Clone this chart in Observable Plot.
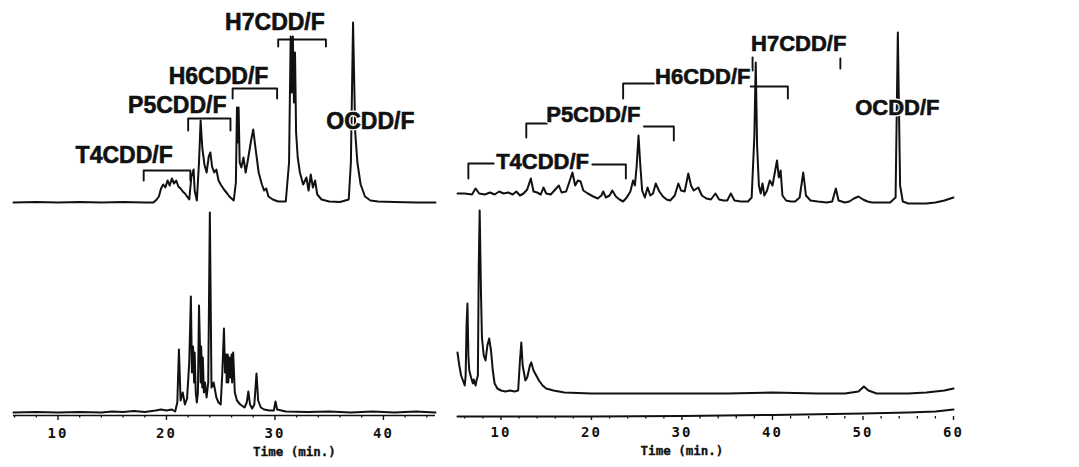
<!DOCTYPE html>
<html><head><meta charset="utf-8">
<script src="https://cdn.jsdelivr.net/npm/d3@7"></script>
<script src="https://cdn.jsdelivr.net/npm/@observablehq/plot@0.6"></script>
<style>
html,body{margin:0;padding:0;background:#fff;}
#chart{position:relative;width:1079px;height:467px;overflow:hidden;background:#fff;}
#chart svg{position:absolute;top:0;background:transparent;overflow:visible;}
g[aria-label="x-axis tick label"] text{letter-spacing:2px;}
</style></head><body><div id="chart"></div>
<script>
// ---------- Left panel (time in min, intensity) ----------
const leftUpper = [[5.9,0],[8,0.5],[10,0],[12,0.5],[14,0],[16,0.5],[18,0],[18.8,0],[19.1,3],[19.3,6],[19.5,14],[19.7,18],[19.9,15],[20.1,22],[20.3,17],[20.5,24],[20.7,19],[20.9,22],[21.1,16],[21.3,14],[21.5,11],[21.7,9],[21.9,6],[22.1,3],[22.3,26],[22.5,33],[22.6,12],[22.8,2],[23.0,40],[23.15,82],[23.3,55],[23.5,38],[23.7,30],[23.9,46],[24.05,50],[24.2,36],[24.4,30],[24.6,33],[24.8,22],[25.0,18],[25.3,13],[25.6,9],[25.8,6],[26.0,4],[26.2,2],[26.4,20],[26.5,95],[26.6,60],[26.65,95],[26.75,40],[26.9,35],[27.1,45],[27.3,30],[27.5,42],[27.8,62],[28.0,73],[28.2,55],[28.5,30],[28.8,18],[29.0,12],[29.2,14],[29.4,6],[29.8,3],[30.3,1],[31.0,1],[31.3,40],[31.45,166],[31.55,110],[31.65,166],[31.75,100],[31.85,150],[31.95,70],[32.1,45],[32.3,30],[32.6,18],[32.9,25],[33.1,12],[33.3,28],[33.5,15],[33.7,22],[33.9,8],[34.3,3],[35,1],[36,0.5],[36.8,3],[37.0,40],[37.2,180],[37.4,70],[37.6,40],[37.9,18],[38.3,6],[38.8,2],[39.5,1],[41,0.5],[43,0],[44.8,0]];
const leftLower = [[5.9,0],[8,0.5],[10,0],[12,0.5],[14,0],[15,1],[16,0.5],[17,1.5],[18,0.5],[19,2],[19.5,3],[20,2],[20.5,3],[20.8,1],[21.0,10],[21.15,63],[21.3,12],[21.5,20],[21.7,8],[21.9,14],[22.1,50],[22.25,116],[22.35,40],[22.45,66],[22.55,30],[22.6,60],[22.7,20],[22.8,10],[22.9,20],[23.0,107],[23.1,60],[23.15,30],[23.2,66],[23.3,25],[23.35,55],[23.45,20],[23.55,30],[23.7,15],[23.85,30],[24.0,200],[24.15,25],[24.35,30],[24.6,15],[24.8,10],[25.0,8],[25.15,40],[25.3,84],[25.4,40],[25.5,58],[25.55,30],[25.65,58],[25.7,30],[25.8,55],[25.9,35],[26.0,58],[26.05,30],[26.15,60],[26.3,20],[26.5,12],[26.8,8],[27.2,5],[27.4,10],[27.55,21],[27.7,8],[27.9,4],[28.1,8],[28.3,39],[28.45,12],[28.7,5],[29.0,3],[29.5,2],[29.9,2],[30.05,11],[30.2,3],[31,1],[33,0.5],[35,1],[37,0],[39,1],[41,0],[43,1],[44.8,0]];
const leftMajorTicks = [10, 20, 30, 40];
const leftMinorTicks = [6, 8, 12, 14, 16, 18, 22, 24, 26, 28, 32, 34, 36, 38, 42, 44];
const leftLabels = [
  {label: "T4CDD/F", t: 16.1, v: 260},
  {label: "P5CDD/F", t: 21.0, v: 310},
  {label: "H6CDD/F", t: 24.8, v: 339},
  {label: "H7CDD/F", t: 30.0, v: 393},
  {label: "OCDD/F", t: 38.8, v: 294}
];
const leftBrackets = [
  {id: "T4", pts: [[17.9,235],[17.9,245],[22.2,245],[22.2,235]]},
  {id: "P5", pts: [[22.0,285],[22.0,297],[25.9,297],[25.9,285]]},
  {id: "H6", pts: [[26.1,317],[26.1,327],[30.2,327],[30.2,317]]},
  {id: "H7", pts: [[30.3,369],[30.3,376],[34.7,376],[34.7,369]]}
];
const leftTimeLabel = [{text: "Time (min.)", t: 31.8, v: -36}];

// ---------- Right panel ----------
const rightUpper = [[5.2,12],[6,12],[6.8,11],[7.2,17],[7.6,12],[8.2,11],[8.8,13],[9.3,11],[9.8,14],[10.3,12],[10.8,13],[11.3,11],[11.7,14],[12.1,10],[12.5,12],[12.9,16],[13.3,27],[13.6,14],[14.0,13],[14.4,11],[14.7,18],[15.0,12],[15.5,11],[15.9,15],[16.4,20],[16.7,13],[17.2,14],[17.5,22],[17.9,33],[18.2,20],[18.5,25],[18.8,24],[19.1,15],[19.6,12],[20.2,9],[20.7,7],[21.1,10],[21.3,14],[21.6,8],[22.0,10],[22.3,15],[22.7,9],[23.1,6],[23.5,4],[23.9,8],[24.3,14],[24.6,25],[24.8,20],[25.0,40],[25.2,70],[25.4,40],[25.6,15],[25.9,8],[26.2,18],[26.5,10],[26.8,12],[27.1,22],[27.5,14],[27.9,9],[28.3,6],[28.7,5],[29.2,10],[29.6,22],[29.9,15],[30.3,14],[30.7,32],[31.0,20],[31.3,15],[31.8,18],[32.2,10],[32.7,7],[33.2,6],[33.7,12],[34.1,6],[34.6,5],[35.0,5],[35.4,12],[35.8,5],[36.5,4],[37.3,4],[37.7,8],[38.0,70],[38.15,143],[38.3,60],[38.5,20],[38.7,12],[38.9,22],[39.1,10],[39.4,15],[39.7,25],[40.0,20],[40.3,35],[40.5,45],[40.7,28],[40.9,35],[41.1,10],[41.5,5],[42.0,4],[42.5,4],[43.0,8],[43.4,33],[43.7,10],[44.2,5],[45,4],[46,3],[46.6,4],[47.0,17],[47.3,5],[48,3],[48.5,4],[49,7],[49.5,9],[50,6],[50.5,4],[51,3],[52,3],[53,3],[53.6,8],[53.85,173],[54.1,20],[54.4,4],[55,2],[56,2],[57,2],[58,3],[59,5],[60,8]];
const rightLower = [[5.2,63],[5.4,50],[5.6,40],[5.8,35],[6.0,30],[6.1,40],[6.2,90],[6.3,112],[6.4,60],[6.5,45],[6.7,38],[6.9,32],[7.0,36],[7.2,30],[7.3,35],[7.45,40],[7.55,150],[7.65,205],[7.8,120],[7.9,78],[8.1,60],[8.3,55],[8.5,70],[8.7,77],[8.9,65],[9.1,45],[9.3,32],[9.6,27],[10.0,25],[10.5,24],[11.0,25],[11.5,24],[11.9,25],[12.1,55],[12.25,73],[12.4,50],[12.7,35],[12.9,38],[13.2,50],[13.35,53],[13.6,45],[13.9,40],[14.2,35],[14.6,30],[15.0,27],[15.8,25],[17,23],[20,22],[25,22],[30,22],[35,22],[40,23],[45,22],[48,22],[49.5,24],[50.1,29],[50.6,25],[51.5,22],[53,22],[55,22],[57,23],[59,25],[60,27]];
const rightDrift = [[5.2,0],[10,0],[20,0],[30,0.5],[40,1.5],[50,3],[55,4],[58,5],[60,7]];
const rightMajorTicks = [10, 20, 30, 40, 50, 60];
const rightMinorTicks = [6, 8, 12, 14, 16, 18, 22, 24, 26, 28, 32, 34, 36, 38, 42, 44, 46, 48, 52, 54, 56, 58];
const rightLabels = [
  {label: "T4CDD/F", t: 14.6, v: 255},
  {label: "P5CDD/F", t: 20.2, v: 302},
  {label: "H6CDD/F", t: 32.3, v: 340},
  {label: "H7CDD/F", t: 42.9, v: 373},
  {label: "OCDD/F", t: 53.8, v: 309}
];
const rightBrackets = [
  {id: "T4a", pts: [[6.4,238],[6.4,253],[9.2,253]]},
  {id: "T4b", pts: [[20.1,252],[23.8,252],[23.8,238]]},
  {id: "P5a", pts: [[12.8,279],[12.8,293],[15.1,293]]},
  {id: "P5b", pts: [[25.8,290],[29.1,290],[29.1,276]]},
  {id: "H6a", pts: [[23.5,318],[23.5,333],[26.9,333]]},
  {id: "H6b", pts: [[37.6,330],[41.7,330],[41.7,318]]},
  {id: "H7a", pts: [[37.8,346],[37.8,359]]},
  {id: "H7b", pts: [[47.5,348],[47.5,358]]}
];
const rightTimeLabel = [{text: "Time (min.)", t: 30.0, v: -34}];

// offsets of each trace above its axis (vertical stacking)
const LEFT_UPPER_OFFSET = 213, LEFT_LOWER_OFFSET = 3;
const RIGHT_UPPER_OFFSET = 211, RIGHT_LOWER_OFFSET = 1, RIGHT_DRIFT_OFFSET = 0;

const INK = "#111";
const TRACE_W = 2;
const flat = (br) => br.flatMap(b => b.pts.map(p => ({id: b.id, t: p[0], v: p[1]})));
const monoFont = "DejaVu Sans Mono, monospace";

function panel(cfg) {
  const lblOpts = {x: "t", y: "v", text: "label", fontSize: cfg.labelSize, fontWeight: "bold", fontFamily: cfg.labelFont};
  return Plot.plot({
    width: cfg.width, height: 467,
    marginLeft: cfg.ml, marginRight: cfg.mr, marginTop: 0, marginBottom: cfg.mb,
    x: {domain: cfg.xdom, axis: null, label: null},
    y: {domain: [0, 467 - cfg.mb], axis: null, label: null},
    style: {background: "transparent", overflow: "visible"},
    marks: [
      ...cfg.marks,
      Plot.axisX({ticks: cfg.minor, tickSize: 2.5, tickFormat: () => "", label: null, stroke: INK, strokeWidth: 1.3}),
      Plot.axisX({ticks: cfg.major, tickSize: cfg.tickSize, tickPadding: cfg.tickPad, tickFormat: d => String(d), label: null,
        fontSize: 14, fontWeight: "bold", fontFamily: monoFont, fill: INK, stroke: INK, strokeWidth: 1.4}),
      Plot.text(cfg.timeLabel, {x: "t", y: "v", text: "text", fontSize: 12.5, fontWeight: "bold",
        fontFamily: monoFont, fill: INK, stroke: INK, strokeWidth: 0.3}),
      Plot.line(flat(cfg.brackets), {x: "t", y: "v", z: "id", stroke: INK, strokeWidth: 1.9}),
      Plot.text(cfg.labels, {...lblOpts, fill: "white", stroke: "white", strokeWidth: 3}),
      Plot.text(cfg.labels, {...lblOpts, fill: INK, stroke: INK, strokeWidth: 0.6})
    ]
  });
}

const lineOf = (data, off) => Plot.line(data, {x: d => d[0], y: d => d[1] + off, stroke: INK,
  strokeWidth: TRACE_W, strokeLinejoin: "round", curve: "linear"});

const left = panel({
  width: 450, ml: 13, mr: 15, mb: 52, xdom: [5.9, 44.8],
  major: leftMajorTicks, minor: leftMinorTicks, tickSize: 5, tickPad: 8,
  timeLabel: leftTimeLabel, brackets: leftBrackets, labels: leftLabels,
  labelSize: 23, labelFont: "Liberation Sans, Arial, sans-serif",
  marks: [
    Plot.ruleY([0], {stroke: INK, strokeWidth: 1.6}),
    lineOf(leftLower, LEFT_LOWER_OFFSET),
    lineOf(leftUpper, LEFT_UPPER_OFFSET)
  ]
});
const right = panel({
  width: 639, ml: 17, mr: 126, mb: 51, xdom: [5.2, 60],
  major: rightMajorTicks, minor: rightMinorTicks, tickSize: 4, tickPad: 7,
  timeLabel: rightTimeLabel, brackets: rightBrackets, labels: rightLabels,
  labelSize: 22, labelFont: "Liberation Sans Narrow, Arial Narrow, Liberation Sans, sans-serif",
  marks: [
    lineOf(rightDrift, RIGHT_DRIFT_OFFSET),
    lineOf(rightLower, RIGHT_LOWER_OFFSET),
    lineOf(rightUpper, RIGHT_UPPER_OFFSET)
  ]
});
left.style.left = "0px";
right.style.left = "440px";
const chart = document.getElementById("chart");
chart.appendChild(left);
chart.appendChild(right);
</script></body></html>
